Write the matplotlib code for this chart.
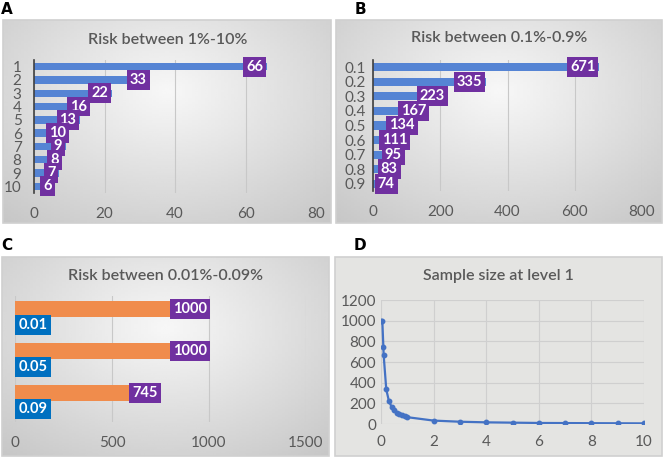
import matplotlib.pyplot as plt
import numpy as np
from matplotlib.patches import Rectangle

# data
cats_a = ["1", "2", "3", "4", "5", "6", "7", "8", "9", "10"]
vals_a = [66, 33, 22, 16, 13, 10, 9, 8, 7, 6]
cats_b = ["0.1", "0.2", "0.3", "0.4", "0.5", "0.6", "0.7", "0.8", "0.9"]
vals_b = [671, 335, 223, 167, 134, 111, 95, 83, 74]
cats_c = [0.01, 0.05, 0.09]
vals_c = [1000, 1000, 745]
risk_d = [0.01, 0.05, 0.09, 0.1, 0.2, 0.3, 0.4, 0.5, 0.6, 0.7, 0.8, 0.9,
          1, 2, 3, 4, 5, 6, 7, 8, 9, 10]
size_d = [1000, 1000, 745, 671, 335, 223, 167, 134, 111, 95, 83, 74,
          66, 33, 22, 16, 13, 10, 9, 8, 7, 6]

W, H = 664, 458
BLUE = "#5584d4"
PURPLE = "#7030a0"
ORANGE = "#f08c4c"
LBLUE = "#0070c0"
GRAY = "#595959"
FONT = "Lato"
TICK = 11

plt.rcParams["font.family"] = [FONT, "DejaVu Sans"]

fig = plt.figure(figsize=(W / 100, H / 100), dpi=100)


def rect(x0, y0, x1, y1):
    # pixel box -> figure coords
    return [x0 / W, 1 - y1 / H, (x1 - x0) / W, (y1 - y0) / H]


def background(x0, y0, x1, y1, flat=None):
    bg = fig.add_axes(rect(x0, y0, x1, y1))
    if flat is None:
        yy, xx = np.mgrid[0:1:100j, 0:1:100j]
        d = np.sqrt(((xx - 0.5) / 0.8) ** 2 + ((yy - 0.35) / 0.9) ** 2)
        img = 0.97 - 0.2 * d
        bg.imshow(img, cmap="gray", vmin=0, vmax=1, aspect="auto",
                  extent=[0, 1, 0, 1], interpolation="bilinear")
    else:
        bg.set_facecolor(flat)
    bg.set_xlim(0, 1)
    bg.set_ylim(0, 1)
    bg.add_patch(Rectangle((0, 0), 1, 1, fill=False, ec="#d0d0d0", lw=1.2,
                           transform=bg.transAxes, clip_on=False))
    bg.set_xticks([])
    bg.set_yticks([])
    for s in bg.spines.values():
        s.set_visible(False)
    return bg


def style(ax):
    ax.set_facecolor("none")
    for s in ax.spines.values():
        s.set_visible(False)
    ax.tick_params(length=0, colors=GRAY, labelsize=TICK)
    ax.grid(axis="x", color="#c8c8c8", lw=0.8)
    ax.set_axisbelow(True)


def title(x, y, text):
    fig.text(x / W, 1 - y / H, text, ha="center", va="center",
             fontsize=11.5, fontweight="semibold", color=GRAY)


def bar_labels(ax, bars, values, xmax, pad):
    for b, v in zip(bars, values):
        ax.text(b.get_width() - pad * xmax, b.get_y() + b.get_height() / 2, str(v),
                ha="right", va="center", color="white", fontsize=10.5,
                fontweight="bold",
                bbox=dict(boxstyle="square,pad=0.2", fc=PURPLE, ec="none"))


# ---- A ----
background(3, 20, 331, 223)
ax = fig.add_axes(rect(34, 60, 316, 193))
style(ax)
y = np.arange(len(cats_a))
bars = ax.barh(y, vals_a, height=0.55, color=BLUE)
ax.set_xlim(0, 80)
ax.set_ylim(len(cats_a) - 0.5, -0.5)
ax.set_xticks([0, 20, 40, 60, 80])
ax.set_yticks(y, cats_a)
ax.spines["left"].set_visible(True)
ax.spines["left"].set_color("#404040")
ax.spines["left"].set_linewidth(1.2)
ax.tick_params(axis="x", pad=10)
ax.tick_params(axis="y", pad=9)
bar_labels(ax, bars, vals_a, 80, 0.012)
title(168, 40, "Risk between 1%-10%")

# ---- B ----
background(336, 20, 662, 223)
ax = fig.add_axes(rect(373, 60, 642, 191))
style(ax)
y = np.arange(len(cats_b))
bars = ax.barh(y, vals_b, height=0.55, color=BLUE)
ax.set_xlim(0, 800)
ax.set_ylim(len(cats_b) - 0.5, -0.5)
ax.set_xticks([0, 200, 400, 600, 800])
ax.set_yticks(y, cats_b)
ax.spines["left"].set_visible(True)
ax.spines["left"].set_color("#404040")
ax.spines["left"].set_linewidth(1.2)
ax.tick_params(axis="x", pad=10)
ax.tick_params(axis="y", pad=5)
bar_labels(ax, bars, vals_b, 800, 0.012)
title(499, 38, "Risk between 0.1%-0.9%")

# ---- C ----
background(2, 257, 329, 456)
ax = fig.add_axes(rect(15, 296, 306, 422))
style(ax)
y = np.arange(len(cats_c))
bars = ax.barh(y - 0.19, vals_c, height=0.36, color=ORANGE)
small = ax.barh(y + 0.19, cats_c, height=0.36, color=LBLUE)
ax.set_xlim(0, 1500)
ax.set_ylim(len(cats_c) - 0.5, -0.5)
ax.set_xticks([0, 500, 1000, 1500])
ax.set_yticks([])
ax.tick_params(axis="x", pad=10)
bar_labels(ax, bars, vals_c, 1500, 0.006)
for b, v in zip(small, cats_c):
    ax.text(b.get_width() + 0.012 * 1500, b.get_y() + b.get_height() / 2, f"{v:.2f}",
            ha="left", va="center", color="white", fontsize=10.5, fontweight="bold",
            bbox=dict(boxstyle="square,pad=0.22", fc=LBLUE, ec="none"))
title(165, 276, "Risk between 0.01%-0.09%")

# ---- D ----
background(335, 257, 662, 456, flat="#e4e4e2")
ax = fig.add_axes(rect(381, 300, 644, 424))
ax.set_facecolor("none")
for s in ax.spines.values():
    s.set_visible(False)
ax.plot(risk_d, size_d, color="#4472c4", lw=1.6, marker="o", ms=3.2)
ax.set_xlim(0, 10)
ax.set_ylim(0, 1200)
ax.set_xticks([0, 2, 4, 6, 8, 10])
ax.set_yticks(range(0, 1201, 200))
ax.grid(color="#cfcfcf", lw=0.8)
ax.set_axisbelow(True)
ax.tick_params(length=0, colors=GRAY, labelsize=TICK)
ax.tick_params(axis="x", pad=8)
title(498, 276, "Sample size at level 1")

# panel letters
for letter, px, py in [("A", 7, 9), ("B", 360, 9), ("C", 7, 246), ("D", 360, 246)]:
    fig.text(px / W, 1 - py / H, letter, ha="center", va="center",
             fontsize=11, fontweight="bold", color="black", family="DejaVu Sans")

fig.savefig("out.png", dpi=100)
